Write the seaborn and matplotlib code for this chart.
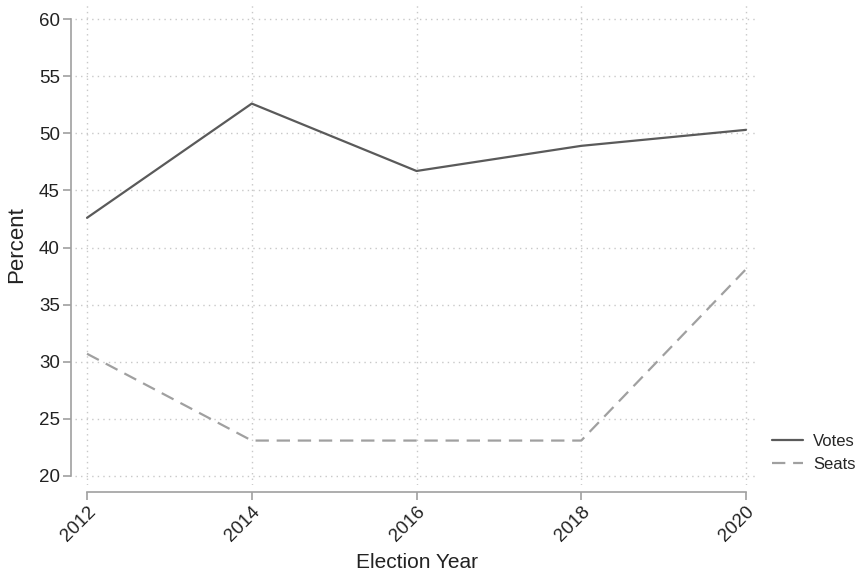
import numpy as np
import pandas as pd
import seaborn as sns
import matplotlib.pyplot as plt

sns.set_style("white")
plt.rcParams['font.family'] = ['Liberation Sans', 'DejaVu Sans']

years = [2012, 2014, 2016, 2018, 2020]
votes = [42.6, 52.6, 46.7, 48.9, 50.3]
seats = [30.7, 23.1, 23.1, 23.1, 38.1]
series = ["Votes", "Seats"]

df = pd.DataFrame({
    "year": years * 2,
    "pct": votes + seats,
    "series": [series[0]] * len(years) + [series[1]] * len(years),
})

fig = plt.figure(figsize=(8.63, 5.71), dpi=100)
# axes box in pixels: x 75..758, y 5..485 (from top)
ax = fig.add_axes([75 / 863, (571 - 485) / 571, 683 / 863, 480 / 571])

sns.lineplot(data=df, x="year", y="pct", hue="series", style="series",
             palette={"Votes": "#5a5a5a", "Seats": "#a0a0a0"},
             dashes={"Votes": "", "Seats": (6, 3.5)},
             linewidth=1.6, ax=ax)

ax.set_xlim(2011.854, 2020.146)
ax.set_ylim(19.21, 61.23)
ax.set_xticks(years)
ax.set_yticks(range(20, 61, 5))
ax.grid(True, linestyle=(0, (1, 3)), color="#c8c8c8", linewidth=1)

for s in ["top", "right"]:
    ax.spines[s].set_visible(False)
ax.spines["left"].set_position(("outward", 3))
ax.spines["bottom"].set_position(("outward", 5))
ax.spines["left"].set_bounds(20, 60)
ax.spines["bottom"].set_bounds(2012, 2020)
for s in ["left", "bottom"]:
    ax.spines[s].set_color("#a0a0a0")
    ax.spines[s].set_linewidth(1.2)
ax.tick_params(axis="both", direction="out", length=6, width=1.2,
               color="#a0a0a0", labelsize=13.5, labelcolor="#222222", pad=2)
ax.tick_params(axis="both", bottom=True, left=True)
plt.setp(ax.get_xticklabels(), rotation=45, ha="right", rotation_mode="anchor")

ax.set_xlabel("Election Year", fontsize=15, labelpad=6, color="#222222")
ax.set_ylabel("Percent", fontsize=16, labelpad=8, color="#222222")

leg = ax.legend(loc="center left", bbox_to_anchor=(1.02, 0.067), frameon=False,
                fontsize=12, handlelength=1.9, handletextpad=0.6, labelspacing=0.45,
                borderaxespad=0, borderpad=0)

fig.savefig("out.png", dpi=100)
